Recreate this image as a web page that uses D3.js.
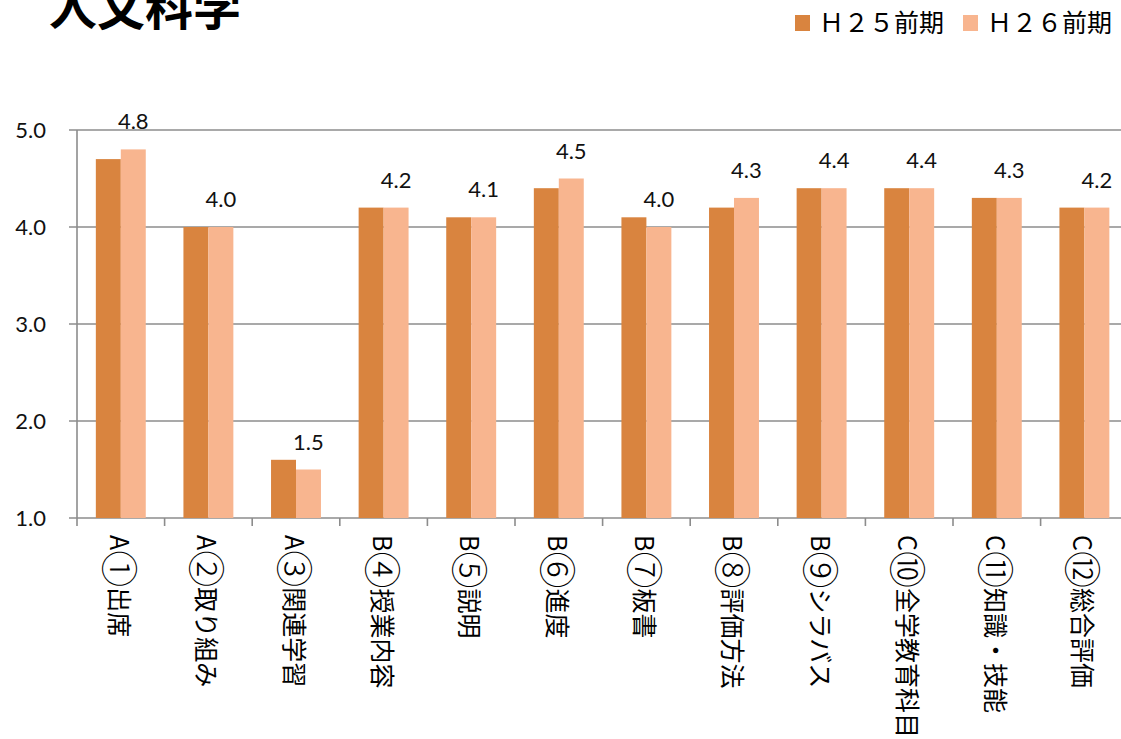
<!DOCTYPE html>
<html><head><meta charset="utf-8">
<script src="https://cdn.jsdelivr.net/npm/d3@7"></script>
<style>html,body{margin:0;padding:0;background:#fff;overflow:hidden}</style>
</head><body>
<svg id="chart" width="1121" height="739"></svg>
<script>
const categories = ["A①出席","A②取り組み","A③関連学習","B④授業内容","B⑤説明","B⑥進度","B⑦板書","B⑧評価方法","B⑨シラバス","C⑩全学教育科目","C⑪知識・技能","C⑫総合評価"];
const seriesNames = ["Ｈ２５前期","Ｈ２６前期"];
const h25 = [4.7,4.0,1.6,4.2,4.1,4.4,4.1,4.2,4.4,4.4,4.3,4.2];
const h26 = [4.8,4.0,1.5,4.2,4.1,4.5,4.0,4.3,4.4,4.4,4.3,4.2];
const yTicks = [1.0,2.0,3.0,4.0,5.0];
const title = "人文科学";
const colors = ["#D9843F","#F8B58F"];

const svg = d3.select("#chart");
const plotLeft = 77, bandW = 87.6, plotTop = 130, plotBottom = 518;
const x = d3.scaleBand().domain(categories).range([plotLeft, plotLeft + bandW*categories.length]).padding(0);
const x1 = d3.scaleBand().domain(seriesNames).range([x.bandwidth()*0.215, x.bandwidth()*0.785]).padding(0);
const y = d3.scaleLinear().domain([1,5]).range([plotBottom, plotTop]);
const gridColor = "#8c8c8c";

svg.append("g").selectAll("line").data(yTicks).join("line")
  .attr("x1", plotLeft-8).attr("x2", 1121)
  .attr("y1", d=>y(d)).attr("y2", d=>y(d))
  .attr("stroke", gridColor).attr("stroke-width", 1.6);

svg.append("line").attr("x1", plotLeft).attr("x2", plotLeft).attr("y1", y(5)).attr("y2", plotBottom+8)
  .attr("stroke", gridColor).attr("stroke-width", 1.6);

svg.append("g").selectAll("text").data(yTicks).join("text")
  .attr("x", 46).attr("y", d=>y(d)+8)
  .attr("text-anchor","end")
  .attr("font-family","Lato, 'Open Sans', sans-serif").attr("font-size", 22).attr("fill","#111")
  .text(d=>d3.format(".1f")(d));

svg.append("g").selectAll("line").data(categories.slice(1)).join("line")
  .attr("x1", d=>x(d)).attr("x2", d=>x(d)).attr("y1", plotBottom).attr("y2", plotBottom+8)
  .attr("stroke", gridColor).attr("stroke-width", 1.6);

const data = [h25, h26];
const groups = svg.append("g").selectAll("g").data(seriesNames).join("g")
  .attr("fill", (d,i)=>colors[i]);
groups.selectAll("rect").data((s,si)=>categories.map((c,ci)=>({c, v: data[si][ci], s})))
  .join("rect")
  .attr("x", d=>x(d.c)+x1(d.s))
  .attr("width", x1.bandwidth())
  .attr("y", d=>y(d.v))
  .attr("height", d=>plotBottom - y(d.v));

svg.append("g").selectAll("text").data(categories).join("text")
  .attr("x", (c)=>x(c)+x1(seriesNames[1])+x1.bandwidth()/2)
  .attr("y", (c,i)=>y(h26[i]) - 20)
  .attr("text-anchor","middle")
  .attr("font-family","Lato, 'Open Sans', sans-serif").attr("font-size", 22).attr("fill","#111")
  .text((c,i)=>d3.format(".1f")(h26[i]));

// category labels rotated; circled digits enlarged
const catText = svg.append("g").selectAll("text").data(categories).join("text")
  .attr("transform", c=>`translate(${x(c)+x.bandwidth()/2},535) rotate(90)`)
  .attr("dominant-baseline","central")
  .attr("font-family","'Noto Sans CJK JP', sans-serif").attr("font-size", 25).attr("fill","#000");
catText.each(function(c){
  const parts = c.match(/^([A-Z])([\u2460-\u2473])(.*)$/);
  const t = d3.select(this);
  t.append("tspan").text(parts[1]);
  t.append("tspan").attr("font-size", 37).attr("font-weight", 300).attr("dominant-baseline","central").text(parts[2]);
  t.append("tspan").attr("dominant-baseline","central").text(parts[3]);
});

svg.append("text").attr("x", 49).attr("y", 25)
  .attr("font-family","'Noto Sans CJK JP', sans-serif").attr("font-weight","bold")
  .attr("font-size", 48).attr("fill","#000").text(title);

const legX = [795, 963];
const lg = svg.append("g").selectAll("g").data(seriesNames).join("g")
  .attr("transform",(d,i)=>`translate(${legX[i]},0)`);
lg.append("rect").attr("x",0).attr("y",15).attr("width",15).attr("height",16).attr("fill",(d,i)=>colors[i]);
lg.append("text").attr("x",24).attr("y",32)
  .attr("font-family","'Noto Sans CJK JP', sans-serif").attr("font-size",25).attr("fill","#000")
  .text(d=>d);
</script>
</body></html>
